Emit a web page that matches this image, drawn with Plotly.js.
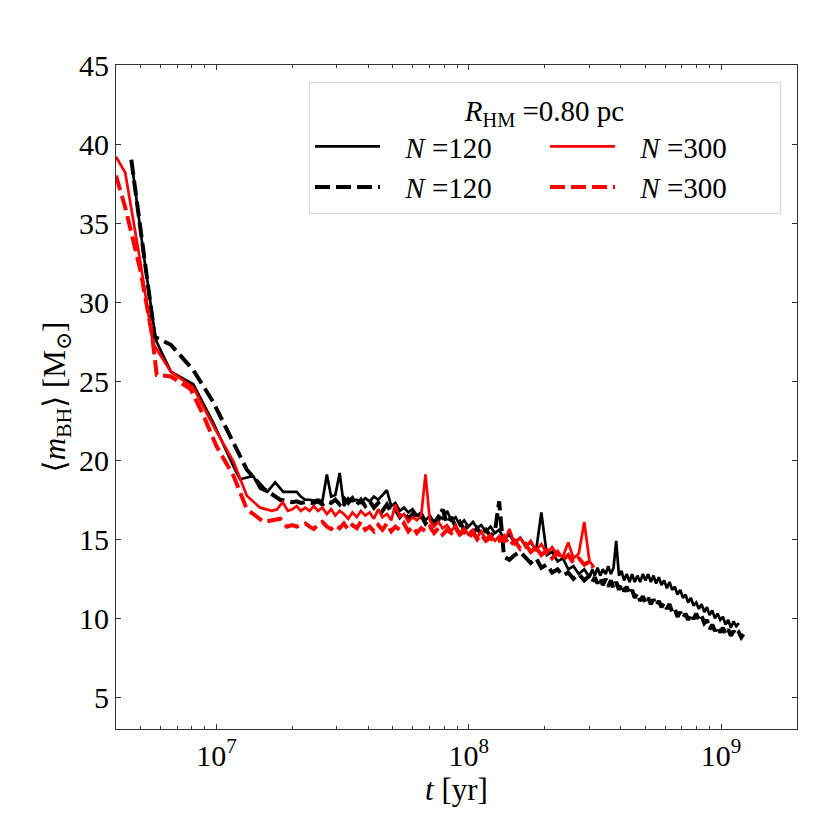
<!DOCTYPE html>
<html>
<head>
<meta charset="utf-8">
<script src="https://cdn.plot.ly/plotly-3.0.1.min.js"></script>
<style>html,body{margin:0;padding:0;background:#fff}</style>
</head>
<body>
<div id="myDiv" style="width:830px;height:830px"></div>
<script>
/**
 * Mean BH mass vs time, R_HM = 0.80 pc.
 * Times are in Myr, masses in Msun.
 */

// early, sparse part of each run
var tEarlyBlackSolid = [4.6, 5.15, 5.75, 6.6, 8.1, 9.7, 11.7, 12.4, 14.0, 14.9, 15.9, 17.1, 18.4];
var mEarlyBlackSolid = [39.0, 33.0, 27.6, 25.6, 24.8, 22.4, 19.6, 18.8, 19.0, 18.2, 18.0, 18.6, 18.0];

var tEarlyBlackDashed = [4.6, 5.15, 5.7, 6.6, 8.1, 9.7, 11.4, 13.2, 15.4, 17.9];
var mEarlyBlackDashed = [39.0, 33.0, 27.8, 27.3, 25.7, 23.7, 21.5, 19.4, 18.2, 17.5];

var tEarlyRedSolid = [4.0, 4.35, 5.0, 5.6, 6.6, 8.1, 9.7, 11.7, 13.2, 14.9, 16.6, 17.4, 18.3, 19.2];
var mEarlyRedSolid = [39.2, 38.2, 32.5, 27.4, 25.6, 24.6, 22.2, 19.9, 17.75, 17.0, 16.8, 16.9, 17.35, 16.8];

var tEarlyRedDashed = [4.0, 4.35, 5.0, 5.55, 5.8, 6.6, 7.9, 8.9, 10.0, 11.7, 13.2, 15.4, 17.9, 19.0];
var mEarlyRedDashed = [38.0, 36.0, 32.0, 28.0, 25.4, 25.3, 24.5, 22.8, 20.9, 19.0, 16.9, 16.1, 16.3, 15.8];

// middle part, same output times for all runs
var tMid = [20.0, 20.8, 21.6, 22.5, 23.4, 24.3, 25.3, 26.3, 27.4, 28.5,
            29.6, 30.8, 32.0, 33.3, 34.6, 36.0, 37.4, 38.9, 40.5, 42.1,
            43.8, 45.5, 47.4, 49.3, 51.2, 53.3, 55.4, 57.6, 59.9, 62.3,
            64.8, 67.4, 70.1, 72.9, 75.8, 78.8, 82.0, 85.3, 88.7, 92.2,
            95.9, 99.7, 104, 108, 112, 117, 122, 127];

var mMidBlackSolid = [18.0, 18.0, 17.7, 17.5, 17.5, 17.45, 17.5, 17.4, 19.1, 17.7,
                      17.8, 19.2, 17.1, 17.6, 17.4, 17.5, 17.3, 17.6, 17.4, 17.7,
                      17.5, 17.8, 18.1, 17.1, 17.3, 16.8, 17.0, 16.7, 16.9, 16.5,
                      16.7, 16.2, 16.5, 16.1, 16.5, 16.3, 16.8, 16.2, 16.4, 15.9,
                      16.2, 15.8, 16.1, 15.7, 15.9, 15.5, 15.8, 15.4];

var mMidBlackDashed = [17.35, 17.4, 17.3, 17.35, 17.3, 17.3, 17.4, 17.2, 17.4, 17.3,
                       17.5, 17.2, 17.6, 17.3, 17.6, 17.2, 17.5, 17.1, 17.4, 17.0,
                       17.3, 16.8, 17.2, 16.7, 16.9, 16.4, 16.7, 16.3, 16.6, 16.2,
                       16.5, 16.0, 16.3, 15.9, 16.2, 16.9, 16.0, 16.4, 15.8, 16.1,
                       15.6, 15.9, 15.4, 15.7, 15.3, 15.6, 15.2, 15.5];

var mMidRedSolid = [16.9, 17.1, 16.8, 17.0, 16.8, 17.1, 16.8, 17.0, 16.6, 16.9,
                    16.5, 16.8, 16.6, 16.3, 16.7, 16.4, 16.8, 16.5, 16.7, 16.3,
                    16.9, 16.4, 16.6, 16.2, 17.2, 16.4, 16.6, 16.1, 16.4, 16.2,
                    16.5, 19.1, 16.2, 15.8, 16.1, 15.7, 15.9, 15.5, 15.9, 15.4,
                    15.7, 15.3, 15.6, 15.1, 15.5, 15.0, 15.3, 14.9];

var mMidRedDashed = [15.9, 15.8, 15.9, 16.0, 15.8, 15.65, 15.9, 16.1, 15.8, 15.65,
                     15.9, 15.7, 16.0, 15.6, 15.9, 15.7, 16.1, 15.6, 15.8, 15.5,
                     15.9, 15.6, 16.0, 15.5, 15.8, 15.6, 16.0, 15.5, 15.8, 15.4,
                     15.7, 15.5, 15.8, 15.4, 15.7, 15.3, 15.6, 15.4, 15.7, 15.3,
                     15.5, 15.1, 15.4, 15.0, 15.3, 14.9, 15.1, 14.8];

// late part, N=120 runs go on to ~1.2 Gyr
var tLate = [132, 138, 145, 152, 160, 168, 176, 185, 194, 204,
             214, 225, 236, 248, 260, 273, 287,
             301, 309, 316, 324, 332, 340, 349, 357, 366, 375,
             384, 394, 403, 413, 423, 434, 444, 455, 466, 478,
             490, 502, 514, 527, 540, 553, 567, 581, 595, 610,
             625, 640, 656, 672, 689, 706, 723, 741, 759, 778,
             797, 817, 837, 858, 879, 901, 923, 946, 969, 993,
             1017, 1042, 1068, 1094, 1121, 1149, 1177, 1203, 1227];

var mLateBlackSolid = [15.6, 15.0, 15.3, 14.8, 15.1, 14.6, 14.8, 14.3, 16.7, 14.0,
                       14.2, 13.6, 13.8, 13.1, 13.3, 12.8, 13.1,
                       12.6, 13.1, 12.7, 13.2, 12.7, 13.1, 12.8, 13.3, 12.8, 13.2,
                       14.9, 12.7, 13.0, 12.4, 12.8, 12.3, 12.8, 12.3, 12.7, 12.3,
                       12.8, 12.4, 12.8, 12.3, 12.7, 12.2, 12.6, 12.1, 12.4, 11.9,
                       12.3, 11.8, 12.0, 11.5, 11.8, 11.3, 11.5, 11.0, 11.3, 10.8,
                       11.0, 10.6, 10.9, 10.4, 10.7, 10.2, 10.5, 10.0, 10.3, 9.9,
                       10.1, 9.6, 9.9, 9.4, 9.8, 9.5, 9.7];

var mLateBlackDashed = [17.4, 13.9, 13.7, 14.0, 14.2, 13.8, 13.5, 13.8, 13.2, 13.4,
                        12.9, 13.1, 12.7, 12.9, 12.5, 12.8, 12.4,
                        12.7, 12.3, 12.6, 12.2, 12.6, 12.1, 12.5, 12.0, 12.4, 11.9,
                        12.3, 11.8, 12.2, 11.7, 12.0, 11.5, 11.8, 11.3, 11.6, 11.1,
                        11.4, 11.0, 11.3, 10.9, 11.2, 10.8, 11.1, 10.7, 11.0, 10.6,
                        10.9, 10.4, 10.6, 10.1, 10.4, 10.0, 10.3, 9.9, 10.3, 9.95,
                        10.3, 9.9, 10.15, 9.7, 9.9, 9.3, 9.6, 9.2, 9.5, 9.1,
                        9.4, 9.0, 9.3, 8.9, 9.2, 8.9, 9.1, 8.8, 9.0];

// N=300 runs stop at ~0.3 Gyr
var tLateRed = [132, 138, 145, 152, 160, 168, 176, 185, 194, 204,
                214, 225, 236, 248, 260, 273, 287, 301, 312];

var mLateRedSolid = [15.2, 14.8, 15.65, 14.7, 15.1, 14.5, 14.9, 14.3, 14.7, 14.1,
                     14.5, 14.0, 13.9, 14.8, 13.8, 14.1, 16.1, 13.6, 13.3];

var mLateRedDashed = [14.9, 15.2, 14.6, 14.9, 14.4, 14.7, 14.2, 14.5, 14.0, 14.3,
                      13.8, 14.2, 13.7, 14.0, 13.5, 13.8, 13.4, 13.6, 13.2];

var xTickVals = [1e7, 1e8, 1e9];
var xTickText = ['10<sup>7</sup>', '10<sup>8</sup>', '10<sup>9</sup>'];
var legendTitle = '<i>R</i><sub>HM</sub> =0.80 pc';
// a little space between the legend line and its text
var labelN120 = '\u2002\u2009<i>N</i> =120';
var labelN300 = '\u2002\u2009<i>N</i> =300';

var FONT = '"Liberation Serif", "DejaVu Serif", serif';

function toYears(arr) {
    return arr.map(function (t) { return t * 1e6; });
}

// minor ticks of the log axis (2..9 in every decade)
var minorVals = [];
for (var d = 6; d <= 9; d++) {
    for (var k = 2; k <= 9; k++) {
        minorVals.push(k * Math.pow(10, d));
    }
}

function plot() {
    var blackSolid = {
        type: 'scatter',
        mode: 'lines',
        name: labelN120,
        legendrank: 1,
        x: toYears(tEarlyBlackSolid.concat(tMid, tLate.slice(0, mLateBlackSolid.length))),
        y: mEarlyBlackSolid.concat(mMidBlackSolid, mLateBlackSolid),
        line: {color: 'black', width: 2.7}
    };

    var blackDashed = {
        type: 'scatter',
        mode: 'lines',
        name: labelN120,
        legendrank: 3,
        x: toYears(tEarlyBlackDashed.concat(tMid, tLate)),
        y: mEarlyBlackDashed.concat(mMidBlackDashed, mLateBlackDashed),
        line: {color: 'black', width: 4, dash: '15px,6px'}
    };

    var redSolid = {
        type: 'scatter',
        mode: 'lines',
        name: labelN300,
        legendrank: 2,
        x: toYears(tEarlyRedSolid.concat(tMid, tLateRed)),
        y: mEarlyRedSolid.concat(mMidRedSolid, mLateRedSolid),
        line: {color: 'red', width: 2.7}
    };

    var redDashed = {
        type: 'scatter',
        mode: 'lines',
        name: labelN300,
        legendrank: 4,
        x: toYears(tEarlyRedDashed.concat(tMid, tLateRed)),
        y: mEarlyRedDashed.concat(mMidRedDashed, mLateRedDashed),
        line: {color: 'red', width: 4, dash: '15px,6px'}
    };

    var axisCommon = {
        showline: true,
        linecolor: '#333',
        linewidth: 1,
        mirror: 'ticks',
        ticks: 'inside',
        ticklen: 5,
        tickcolor: '#333',
        showgrid: false,
        zeroline: false,
        tickfont: {family: FONT, size: 30, color: 'black'}
    };

    var layout = {
        width: 830,
        height: 830,
        margin: {l: 116, r: 33, t: 65, b: 101},
        paper_bgcolor: 'white',
        plot_bgcolor: 'white',
        font: {family: FONT, color: 'black'},
        showlegend: true,
        xaxis: Object.assign({}, axisCommon, {
            type: 'log',
            range: [Math.log10(4e6), Math.log10(2e9)],
            tickmode: 'array',
            tickvals: xTickVals,
            ticktext: xTickText,
            minor: {tickmode: 'array', tickvals: minorVals, ticks: 'inside', ticklen: 3, tickcolor: '#333'},
            title: {text: '<i>t</i> [yr]', font: {family: FONT, size: 31}, standoff: 0}
        }),
        yaxis: Object.assign({}, axisCommon, {
            range: [3, 45],
            tickmode: 'linear',
            tick0: 5,
            dtick: 5,
            title: {text: '\u27e8<i>m</i><sub>BH</sub>\u27e9 [M<sub>\u2299</sub>]', font: {family: FONT, size: 31}, standoff: 4}
        }),
        legend: {
            orientation: 'h',
            x: 0.9765,
            xanchor: 'right',
            y: 0.974,
            yanchor: 'top',
            entrywidth: 155,
            itemwidth: 65,
            bgcolor: 'rgba(255,255,255,0.8)',
            bordercolor: '#d6d6d6',
            borderwidth: 1,
            font: {family: FONT, size: 29},
            title: {text: legendTitle, side: 'top center', font: {family: FONT, size: 29}}
        }
    };

    Plotly.newPlot('myDiv', [blackSolid, blackDashed, redSolid, redDashed], layout, {displayModeBar: false});
}

plot();
</script>
</body>
</html>
